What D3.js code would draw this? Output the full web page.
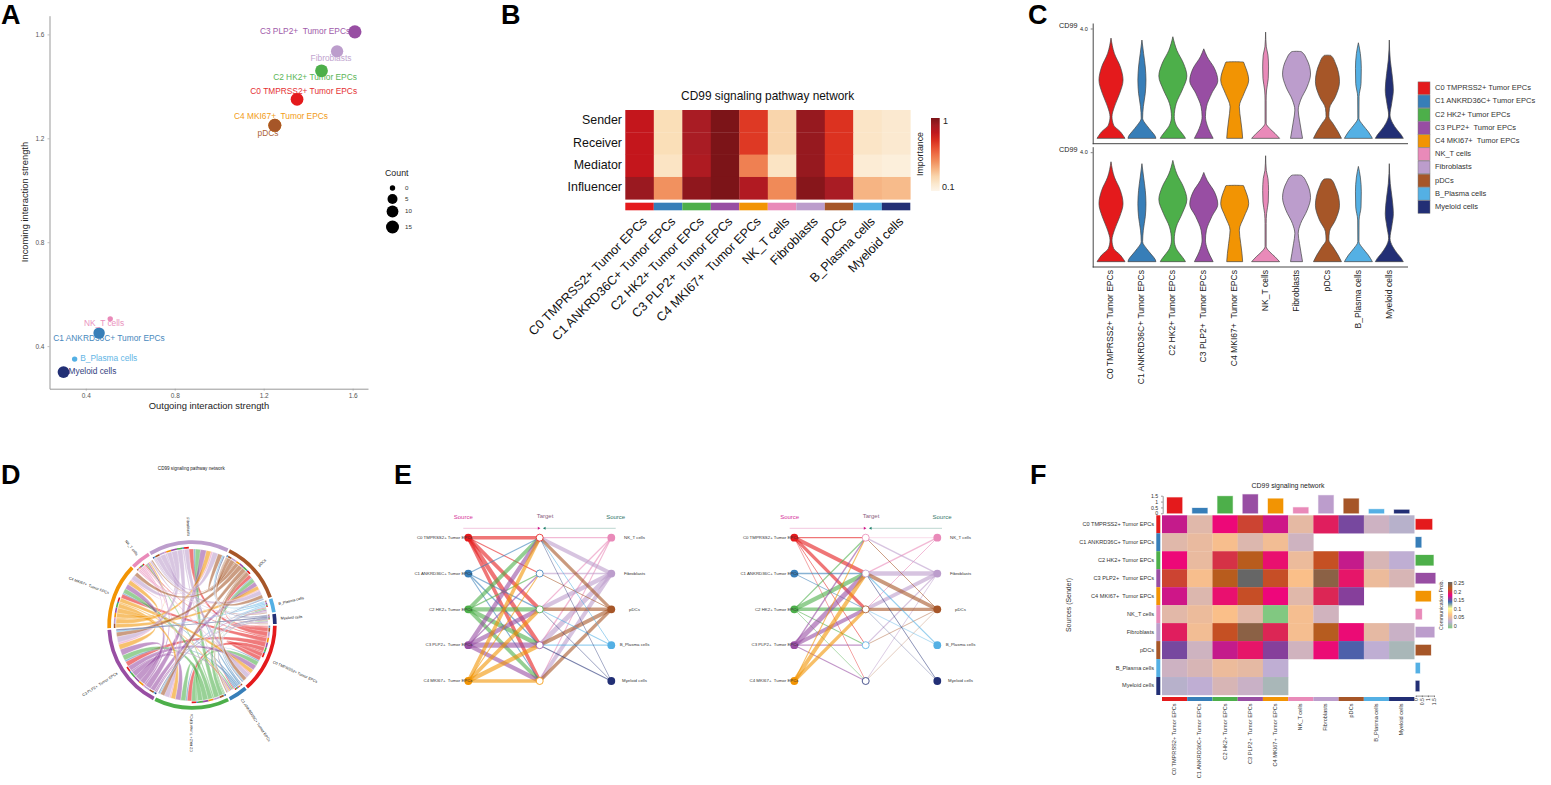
<!DOCTYPE html>
<html><head><meta charset="utf-8">
<script src="https://cdn.jsdelivr.net/npm/d3@7"></script>
<style>
html,body{margin:0;padding:0;background:#fff}
svg{display:block}
text{font-family:"Liberation Sans",Arial,sans-serif;white-space:pre}
</style></head><body><svg id="fig" width="1551" height="785" viewBox="0 0 1551 785"></svg>
<script>
// ---------- DATA ----------
const cellTypes=["C0 TMPRSS2+ Tumor EPCs","C1 ANKRD36C+ Tumor EPCs","C2 HK2+ Tumor EPCs","C3 PLP2+  Tumor EPCs","C4 MKI67+  Tumor EPCs","NK_T cells","Fibroblasts","pDCs","B_Plasma cells","Myeloid cells"];
const cellColors=["#E41A1C","#377EB8","#4DAF4A","#984EA3","#F29403","#E98AB9","#BC9DCC","#A65628","#54B0E4","#222F75"];
const outgoing=[1.35,0.46,1.46,1.61,1.25,0.51,1.53,1.25,0.35,0.30];
const incoming=[1.35,0.45,1.46,1.61,1.25,0.505,1.535,1.25,0.35,0.30];
const counts=[14,9,14,16,15,0,12,15,0,10];
const countLegend=[0,5,10,15];
const roles=["Sender","Receiver","Mediator","Influencer"];
const impSender=[0.78,0.17,0.88,1,0.66,0.2,0.93,0.68,0.12,0.09];
const impReceiver=[0.78,0.17,0.88,1,0.66,0.2,0.93,0.68,0.12,0.09];
const impMediator=[0.78,0.13,0.86,1,0.45,0.13,0.93,0.68,0.07,0.05];
const impInfluencer=[0.92,0.40,0.95,1,0.85,0.42,0.97,0.88,0.3,0.28];
// communication probability, rows = sources
const commC0=[.170,.055,.181,.205,.172,.058,.190,.155,.044,.032];
const commC1=[.055,null,.060,.068,.053,null,.065,.045,null,null];
const commC2=[.181,.060,.198,.217,.184,.062,.210,.170,.050,.036];
const commC3=[.205,.068,.217,.250,.209,.070,.235,.186,.062,.050];
const commC4=[.172,.053,.184,.209,.180,.055,.193,.158,null,null];
const commNK=[.056,null,.062,.070,.056,.001,.067,.046,null,null];
const commFib=[.190,.065,.210,.235,.193,.067,.218,.182,.058,.042];
const commPDC=[.155,.045,.170,.186,.158,.046,.182,.147,.036,.024];
const commB=[.044,null,.050,.062,null,null,.058,.036,null,null];
const commMy=[.032,null,.036,.050,null,null,.042,.024,null,null];
const comm=[commC0,commC1,commC2,commC3,commC4,commNK,commFib,commPDC,commB,commMy];
// violin profiles: [expression, relative density]
const violinC0=[[3.65,0],[3.09,.24],[2.6,.67],[2.12,.86],[1.64,.62],[1.15,.24],[.79,.07],[.48,.19],[.24,.67],[.08,.9],[0,1]];
const violinC1=[[3.58,0],[3.09,.12],[2.6,.24],[2.12,.29],[1.64,.24],[1.15,.1],[.73,.05],[.48,.33],[.24,.71],[.08,.95],[0,1]];
const violinC2=[[3.7,0],[3.2,.29],[2.73,.76],[2.27,1],[1.76,.67],[1.27,.24],[.79,.1],[.48,.24],[.24,.57],[.08,.81],[0,.9]];
const violinC3=[[3.26,0],[2.97,.24],[2.55,.76],[2.1,1],[1.64,.57],[1.15,.19],[.79,.12],[.48,.24],[.24,.43],[0,.67]];
const violinC4=[[2.79,0],[2.78,.62],[2.67,.71],[2.12,1],[1.64,.67],[1.15,.33],[.67,.43],[.3,.52],[0,.57]];
const violinNK=[[3.87,0],[3.33,.05],[3.03,.17],[2.6,.21],[2.18,.19],[1.76,.07],[1.39,.04],[.55,.04],[.36,.29],[.18,.67],[0,1]];
const violinFib=[[3.17,0],[3.16,.33],[2.9,.71],[2.34,1],[1.88,.76],[1.39,.29],[1.03,.12],[.67,.21],[.3,.33],[0,.43]];
const violinPDC=[[3.03,0],[3.02,.24],[2.73,.57],[2.06,.86],[1.52,.57],[1.09,.14],[.79,.1],[.55,.38],[.24,.76],[0,1]];
const violinB=[[3.48,0],[3.09,.14],[2.55,.21],[2,.19],[1.52,.05],[.73,.04],[.48,.33],[.24,.71],[0,1]];
const violinMy=[[3.58,0],[2.85,.07],[2.36,.19],[1.76,.29],[1.27,.17],[.85,.05],[.55,.24],[.3,.57],[.12,.86],[0,1]];
const violins=[violinC0,violinC1,violinC2,violinC3,violinC4,violinNK,violinFib,violinPDC,violinB,violinMy];
const probTicks=[0,0.05,0.1,0.15,0.2,0.25];

// ---------- HELPERS ----------
const svg=d3.select("#fig");
const idx=d3.range(cellTypes.length);
const txt=(g,x,y,s,size,o={})=>g.append("text").attr("x",x).attr("y",y).text(s).attr("font-size",size)
  .attr("fill",o.fill||"#222").attr("text-anchor",o.anchor||"start").attr("dominant-baseline",o.base||"middle")
  .attr("font-weight",o.weight||null).attr("transform",o.rot!=null?`rotate(${o.rot} ${x} ${y})`:null);
function styleAxis(g,size,lineCol,txtCol,lw){
  g.selectAll("path.domain").attr("stroke",lineCol).attr("stroke-width",lw);
  g.selectAll(".tick line").attr("stroke",lineCol).attr("stroke-width",.6);
  g.selectAll(".tick text").attr("font-size",size).attr("fill",txtCol).attr("font-family",'"Liberation Sans",Arial,sans-serif');
}
[["A",1,24],["B",501,24],["C",1028,24],["D",1,484],["E",394,484],["F",1030,484]].forEach(p=>
  txt(svg,p[1],p[2],p[0],27,{weight:"bold",fill:"#000",base:"auto"}));

// ---------- PANEL A ----------
(function(){
  const g=svg.append("g");
  const x=d3.scaleLinear().domain([.237,1.669]).range([49.5,368]);
  const y=d3.scaleLinear().domain([.236,1.672]).range([388.7,15.7]);
  const r=d3.scaleLinear().domain([0,5,10,15,20]).range([2.7,5,5.9,6.5,7]);
  const ax=g.append("g").attr("transform","translate(0,388.7)").call(d3.axisBottom(x).tickValues([.4,.8,1.2,1.6]).tickSize(2).tickSizeOuter(0).tickFormat(d3.format(".1f")));
  const ay=g.append("g").attr("transform","translate(49.5,0)").call(d3.axisLeft(y).tickValues([.4,.8,1.2,1.6]).tickSize(2).tickSizeOuter(0).tickFormat(d3.format(".1f")));
  styleAxis(ax,6.5,"#999","#555",1);styleAxis(ay,6.5,"#999","#555",1);
  txt(g,209,406.5,"Outgoing interaction strength",9.4,{anchor:"middle"});
  txt(g,26,202,"Incoming interaction strength",9.4,{anchor:"middle",rot:-90});
  g.selectAll("circle.pt").data(idx).join("circle").attr("class","pt")
    .attr("cx",i=>x(outgoing[i])).attr("cy",i=>y(incoming[i])).attr("r",i=>r(counts[i])).attr("fill",i=>cellColors[i]);
  const nudge=[[7,-12],[-44,-17]];
  const labelOffsets=[[-43.5,-8.5,0],[-44,-17],[0,0]];
  const lab=[[303.7,91.5],[109,338.5],[315,78],[305,32],[281,117],[104,324],[331,59],[268,133.5],[108.7,358.5],[92.5,372]];
  idx.forEach(i=>txt(g,lab[i][0],lab[i][1],cellTypes[i],8.35,{anchor:"middle",fill:cellColors[i]}).attr("opacity",.92));
  txt(g,385,174,"Count",8.8);
  const ly=d3.scalePoint().domain(countLegend).range([188,227]);
  const lyPos=[188,199,211.5,227];
  countLegend.forEach((c,k)=>{
    g.append("circle").attr("cx",392.5).attr("cy",lyPos[k]).attr("r",r(c)).attr("fill","#000");
    txt(g,405,lyPos[k],String(c),6.2,{fill:"#333"});
  });
})();

// ---------- PANEL B ----------
(function(){
  const g=svg.append("g");
  const impRows=[impSender,impReceiver,impMediator,impInfluencer];
  const col=d3.scaleLinear().domain([0,.17,.3,.42,.55,.68,.78,.88,1])
    .range(["#fdf5ea","#fadfb8","#f6b483","#f08a58","#ec5f3c","#dc3220","#c4161c","#a91c24","#7c1418"]);
  const x=d3.scaleBand().domain(idx).range([625.3,910.3]);
  const y=d3.scaleBand().domain(d3.range(4)).range([110,199.3]);
  impRows.forEach((row,ri)=>g.selectAll(null).data(row).join("rect")
    .attr("x",(d,i)=>x(i)).attr("y",y(ri)).attr("width",x.bandwidth()+.3).attr("height",y.bandwidth()+.3).attr("fill",d=>col(d)));
  g.selectAll(null).data(idx).join("rect").attr("x",i=>x(i)).attr("y",202.7).attr("width",x.bandwidth()).attr("height",7.6).attr("fill",i=>cellColors[i]);
  txt(g,767.7,96.5,"CD99 signaling pathway network",11.9,{anchor:"middle",fill:"#111"});
  roles.forEach((r,i)=>txt(g,622,y(i)+y.bandwidth()/2,r,12.4,{anchor:"end",fill:"#111"}));
  idx.forEach(i=>{const px=x(i)+x.bandwidth()/2+2,py=216;
    txt(g,px,py,cellTypes[i],12.6,{anchor:"end",rot:-45,fill:"#111",base:"hanging"});});
  const defs=svg.append("defs");
  const lg=defs.append("linearGradient").attr("id","impGrad").attr("x1",0).attr("y1",1).attr("x2",0).attr("y2",0);
  d3.range(0,1.01,.1).forEach(t=>lg.append("stop").attr("offset",t).attr("stop-color",col(t)));
  g.append("rect").attr("x",931).attr("y",118).attr("width",8.7).attr("height",73).attr("fill","url(#impGrad)");
  txt(g,943,122,"1",9,{fill:"#222"});txt(g,942,188,"0.1",9,{fill:"#222"});
  txt(g,921,154,"Importance",8.8,{anchor:"middle",rot:-90});
})();

// ---------- PANEL C ----------
(function(){
  const g=svg.append("g");
  const x=d3.scalePoint().domain(idx).range([1111,1389.3]);
  const w=d3.scaleLinear().domain([0,1]).range([0,14]);
  [[143.7,23,0],[267,146.7,123.4]].forEach(p=>{
    const [bot,top,dy]=p;
    const y=d3.scaleLinear().domain([-.195,4.2]).range([bot,top]);
    const a=g.append("g").attr("transform","translate(1092.7,0)").call(d3.axisLeft(y).tickValues([4]).tickSize(2).tickSizeOuter(0));
    styleAxis(a,5.5,"#333","#222",.9);
    g.append("line").attr("x1",1092.7).attr("x2",1408).attr("y1",bot).attr("y2",bot).attr("stroke","#333").attr("stroke-width",.9);
    txt(g,1059,y(4)-2,"CD99",7.2,{fill:"#222"});
    idx.forEach(i=>{
      const area=d3.area().curve(d3.curveMonotoneY).y(d=>y(d[0]))
        .x0(d=>x(i)-w(d[1])).x1(d=>x(i)+w(d[1]));
      g.append("path").attr("d",area(violins[i])+"Z").attr("fill",cellColors[i]).attr("stroke","#444").attr("stroke-width",.7);
    });
  });
  idx.forEach(i=>txt(g,x(i),270,cellTypes[i],8.55,{anchor:"end",rot:-90,fill:"#222"}));
  const ly=d3.scaleBand().domain(idx).range([81.7,213.5]);
  idx.forEach(i=>{
    g.append("rect").attr("x",1418).attr("y",ly(i)+.2).attr("width",12).attr("height",ly.bandwidth()-.4).attr("fill",cellColors[i]).attr("stroke","#777").attr("stroke-width",.5);
    txt(g,1435,ly(i)+ly.bandwidth()/2,cellTypes[i],7.5,{fill:"#333"});
  });
})();

// ---------- shared matrix ----------
const matrix=comm.map(r=>r.map(v=>v==null?0:v));

// ---------- PANEL D ----------
(function(){
  const cx=192,cy=625;
  const g=svg.append("g").attr("transform",`translate(${cx},${cy})`);
  txt(svg,191.3,469,"CD99 signaling pathway network",4.6,{anchor:"middle",fill:"#222"});
  const chords=d3.chordDirected().padAngle(.02)(matrix);
  const off=(90.5)*Math.PI/180;
  const grp=chords.groups;
  const flip=(e)=>{const G=grp[e.index];return{index:e.index,startAngle:G.startAngle+G.endAngle-e.endAngle+off,endAngle:G.startAngle+G.endAngle-e.startAngle+off,value:e.value};};
  const links=Array.from(chords).map(c=>({source:flip(c.source),target:flip(c.target)}));
  const ribbon=d3.ribbon().radius(76);
  g.selectAll("path.l").data(links).join("path").attr("class","l").attr("d",ribbon)
    .attr("fill",d=>cellColors[d.source.index]).attr("fill-opacity",.58).attr("stroke","#fff").attr("stroke-width",.25);
  const tick=d3.arc().innerRadius(76.6).outerRadius(78.2);
  g.selectAll("path.t").data(links).join("path").attr("class","t")
    .attr("d",d=>tick(d.source)).attr("fill",d=>cellColors[d.target.index]);
  const arc=d3.arc().innerRadius(81).outerRadius(84.7);
  grp.forEach(G=>{
    const a={startAngle:G.startAngle+off,endAngle:G.endAngle+off};
    g.append("path").attr("d",arc(a)).attr("fill",cellColors[G.index]);
    const mid=((a.startAngle+a.endAngle)/2)*180/Math.PI%360, right=mid<180;
    g.append("text").text(cellTypes[G.index]).attr("font-size",3.8).attr("fill","#222").attr("dominant-baseline","middle")
      .attr("text-anchor",right?"start":"end")
      .attr("transform",`rotate(${mid-90}) translate(89,0)`+(right?"":" rotate(180)"));
  });
})();

// ---------- PANEL E ----------
function hierarchy(x0,xm,x1,midIdx,rightIdx,hdr,labL,labR){
  const g=svg.append("g");
  const y=d3.scalePoint().domain(d3.range(5)).range([537.7,681]);
  const w=d3.scaleLinear().domain([0,.25]).range([0,5.2]);
  const src=d3.range(5), edge=(xa,ya,xb,yb,col,val)=>{ if(val==null)return;
    g.append("line").attr("x1",xa).attr("y1",ya).attr("x2",xb).attr("y2",yb).attr("stroke",col).attr("stroke-opacity",.6).attr("stroke-width",Math.max(.5,w(val)));};
  src.forEach(s=>midIdx.forEach((t,j)=>edge(x0,y(s),xm,y(j),cellColors[s],comm[s][t])));
  rightIdx.forEach((s,k)=>midIdx.forEach((t,j)=>edge(x1,y(k),xm,y(j),cellColors[s],comm[s][t])));
  txt(g,hdr[0],517.3,"Source",6,{anchor:"middle",fill:"#d6339a"});
  txt(g,hdr[1],516.7,"Target",6,{anchor:"middle",fill:"#8a5f80"});
  txt(g,hdr[2],517.3,"Source",6,{anchor:"middle",fill:"#35776a"});
  g.append("line").attr("x1",hdr[0]).attr("x2",xm-1).attr("y1",528.3).attr("y2",528.3).attr("stroke","#e7a0c8").attr("stroke-width",.6);
  g.append("line").attr("x1",xm+5).attr("x2",hdr[2]).attr("y1",528.3).attr("y2",528.3).attr("stroke","#8fb8ae").attr("stroke-width",.6);
  g.append("path").attr("d",d3.symbol(d3.symbolTriangle,4)()).attr("transform",`translate(${xm-1},528.3) rotate(90)`).attr("fill","#d01c8b");
  g.append("path").attr("d",d3.symbol(d3.symbolTriangle,4)()).attr("transform",`translate(${xm+5},528.3) rotate(-90)`).attr("fill","#1b7e6a");
  src.forEach(s=>{
    g.append("circle").attr("cx",x0).attr("cy",y(s)).attr("r",3.9).attr("fill",cellColors[s]);
    txt(g,labL,y(s),cellTypes[s],4.35,{anchor:"end",fill:"#333"});
  });
  midIdx.forEach((t,j)=>g.append("circle").attr("cx",xm).attr("cy",y(j)).attr("r",3.5).attr("fill","#fff").attr("stroke",cellColors[t]).attr("stroke-width",.8));
  rightIdx.forEach((s,k)=>{
    g.append("circle").attr("cx",x1).attr("cy",y(k)).attr("r",3.9).attr("fill",cellColors[s]);
    txt(g,labR,y(k),cellTypes[s],4.35,{anchor:"middle",fill:"#333"});
  });
}
hierarchy(468.3,539.7,611.3,[0,1,2,3,4],[5,6,7,8,9],[463.3,545,615.7],472.5,634.5);
hierarchy(794.3,865.7,937.3,[5,6,7,8,9],[5,6,7,8,9],[789.7,871,942],798.5,960.5);

// ---------- PANEL F ----------
(function(){
  const g=svg.append("g");
  const x=d3.scaleBand().domain(idx).range([1162,1414.3]);
  const y=d3.scaleBand().domain(idx).range([515.3,695]);
  const accent=d3.schemeAccent.slice(0,8);
  const col=d3.scaleLinear().domain(accent.map((c,i)=>i/7*.25)).range(accent);
  comm.forEach((row,ri)=>g.selectAll(null).data(row).join("rect").filter(d=>d!=null)
    .attr("x",(d,i)=>x(i)).attr("y",y(ri)).attr("width",x.bandwidth()+.2).attr("height",y.bandwidth()+.2).attr("fill",d=>col(d)));
  idx.forEach(i=>{
    g.append("rect").attr("x",1156.3).attr("y",y(i)).attr("width",4).attr("height",y.bandwidth()).attr("fill",cellColors[i]);
    g.append("rect").attr("x",x(i)).attr("y",697).attr("width",x.bandwidth()).attr("height",4).attr("fill",cellColors[i]);
    txt(g,1154,y(i)+y.bandwidth()/2,cellTypes[i],5.6,{anchor:"end",fill:"#333"});
    txt(g,x(i)+x.bandwidth()/2,703.5,cellTypes[i],5.6,{anchor:"end",rot:-90,fill:"#333"});
  });
  const topY=d3.scaleLinear().domain([0,1.5]).range([513.3,495.7]);
  const rightX=d3.scaleLinear().domain([0,1.5]).range([1415.7,1434]);
  idx.forEach(i=>{
    g.append("rect").attr("x",x(i)+x.bandwidth()/2-7.6).attr("y",topY(incoming[i])).attr("width",15.2).attr("height",topY(0)-topY(incoming[i]))
      .attr("fill",cellColors[i]).attr("stroke",cellColors[i]).attr("stroke-opacity",.3).attr("stroke-width",1);
    g.append("rect").attr("x",rightX(0)).attr("y",y(i)+y.bandwidth()/2-5.2).attr("width",rightX(outgoing[i])-rightX(0)).attr("height",10.4)
      .attr("fill",cellColors[i]).attr("stroke",cellColors[i]).attr("stroke-opacity",.3).attr("stroke-width",1);
  });
  const at=g.append("g").attr("transform","translate(1162.7,0)").call(d3.axisLeft(topY).tickValues([0,.5,1,1.5]).tickSize(1.5).tickSizeOuter(0).tickFormat(d3.format("~g")));
  styleAxis(at,5.2,"#333","#333",.5);
  const ar=g.append("g").attr("transform","translate(0,695.6)").call(d3.axisBottom(rightX).tickValues([0,.5,1,1.5]).tickSize(1.5).tickSizeOuter(0).tickFormat(d3.format("~g")));
  styleAxis(ar,5.2,"#333","#333",.5);
  ar.selectAll(".tick text").attr("text-anchor","end").attr("dominant-baseline","middle").attr("transform","rotate(-90)").attr("x",-2.5).attr("y",0).attr("dy",0);
  txt(g,1288,485.7,"CD99 signaling network",6.9,{anchor:"middle",fill:"#222"});
  txt(g,1069,605,"Sources (Sender)",6.9,{anchor:"middle",rot:-90,fill:"#333"});
  txt(g,1442,605,"Communication Prob.",5.2,{anchor:"middle",rot:-90,fill:"#333"});
  const lg=svg.append("defs").append("linearGradient").attr("id","probGrad").attr("x1",0).attr("y1",1).attr("x2",0).attr("y2",0);
  accent.forEach((c,i)=>lg.append("stop").attr("offset",i/7).attr("stop-color",c));
  g.append("rect").attr("x",1448).attr("y",582).attr("width",4.3).attr("height",46.3).attr("fill","url(#probGrad)");
  const ls=d3.scaleLinear().domain([0,.25]).range([626.3,583.7]);
  probTicks.forEach(t=>txt(g,1453.7,ls(t),String(t),5.4,{fill:"#333"}));
})();
</script></body></html>
